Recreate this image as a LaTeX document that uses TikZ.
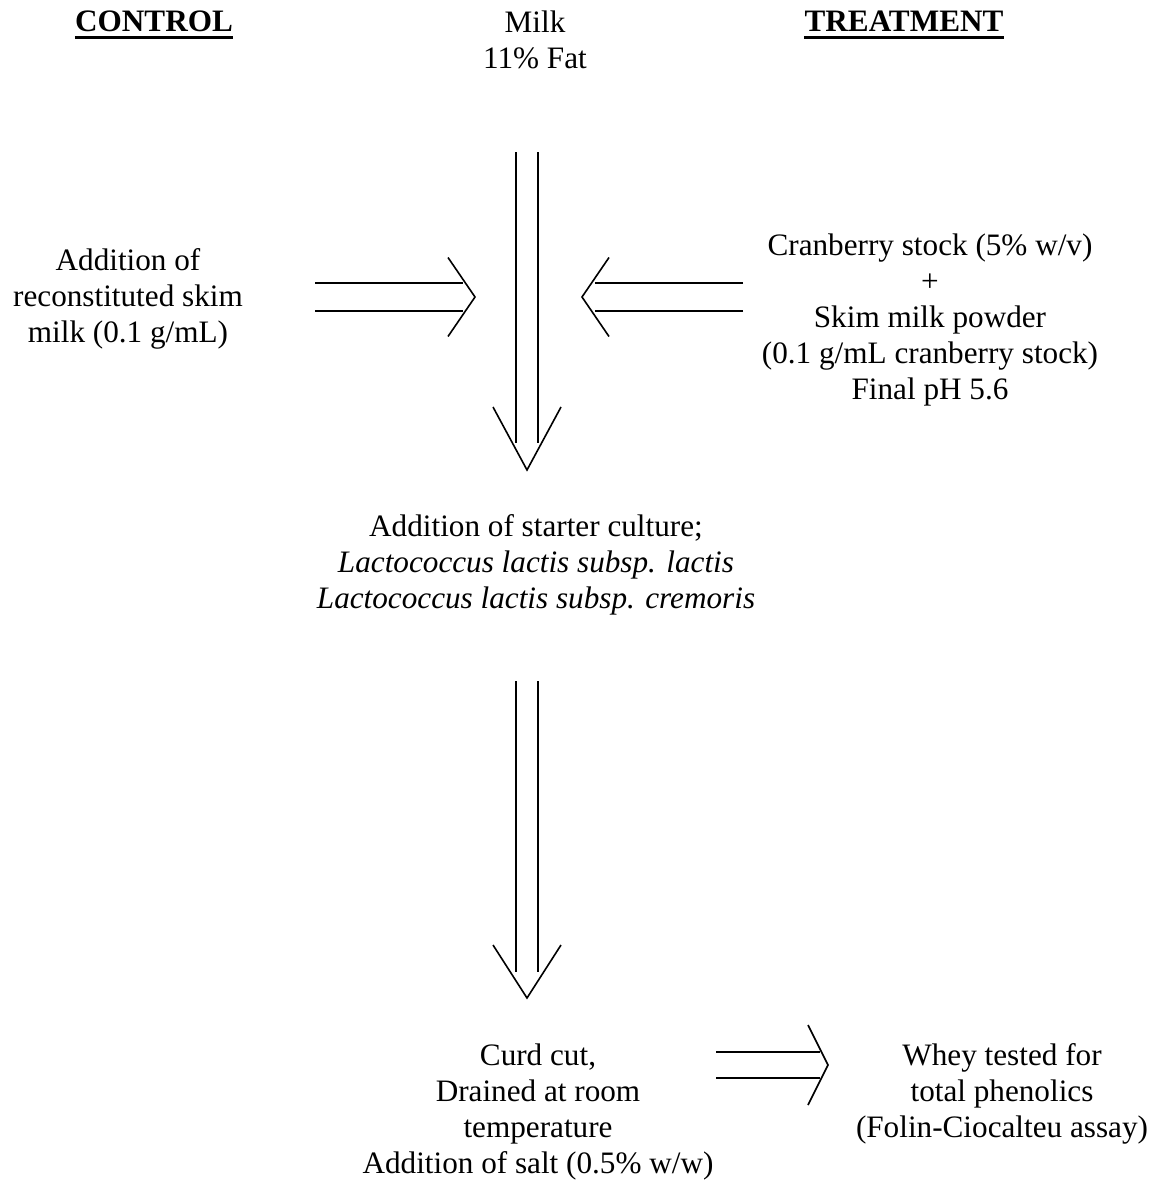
\documentclass[tikz,border=0pt]{standalone}
\usepackage{fontspec}
\setmainfont{Liberation Serif}
\usetikzlibrary{calc}
\tikzset{
  arrline/.style={line width=1.6pt, black},
  txt/.style={inner sep=0pt, align=center, anchor=north,
    font=\fontsize{31.2}{36}\selectfont},
  head/.style={inner sep=0pt, anchor=base,
    font=\fontsize{31.2}{36}\selectfont\bfseries},
}
% #1 from, #2 tip, #3 gap line-end to tip, #4 head depth, #5 head half width, #6 line offset
\newcommand{\dblarrow}[6]{%
  \path ($(#2)!#3pt!(#1)$) coordinate (tmpE) ($(#2)!#4pt!(#1)$) coordinate (tmpH);
  \draw[arrline] ($(#1)!#6pt!90:(#2)$) -- ($(tmpE)!#6pt!-90:(#1)$);
  \draw[arrline] ($(#1)!#6pt!-90:(#2)$) -- ($(tmpE)!#6pt!90:(#1)$);
  \draw[arrline] ($(tmpH)!#5pt!90:(#2)$) -- (#2) -- ($(tmpH)!#5pt!-90:(#2)$);
}
\begin{document}
\begin{tikzpicture}[x=1pt,y=-1pt]
\useasboundingbox[fill=white] (0,0) rectangle (1161,1180);

% headers
\node[head] (control) at (154,32) {CONTROL};
\node[head] (treat) at (904,32) {TREATMENT};
\draw[line width=3pt] ([yshift=-6pt]control.base west) -- ([yshift=-6pt]control.base east);
\draw[line width=3pt] ([yshift=-6pt]treat.base west) -- ([yshift=-6pt]treat.base east);

% texts
\node[txt] (milk) at (535,6.8) {\strut Milk\\11\% Fat};
\node[txt] (ctrl) at (128,244.8) {\strut Addition of\\reconstituted skim\\milk (0.1 g/mL)};
\node[txt] (cran) at (930,229.8) {\strut Cranberry stock (5\% w/v)\\+\\Skim milk powder\\(0.1 g/mL cranberry stock)\\Final pH 5.6};
\node[txt] (starter) at (536,510.8) {\strut Addition of starter culture;\\\itshape Lactococcus lactis subsp. lactis\\\itshape Lactococcus lactis subsp. cremoris};
\node[txt] (curd) at (538,1039.8) {\strut Curd cut,\\Drained at room\\temperature\\Addition of salt (0.5\% w/w)};
\node[txt] (whey) at (1002,1039.8) {\strut Whey tested for\\total phenolics\\(Folin-Ciocalteu assay)};

% arrow end points
\coordinate (a1s) at (527,152);
\coordinate (a1t) at (527,470);
\coordinate (a2s) at (527,681);
\coordinate (a2t) at (527,998);
\coordinate (las) at (315,297);
\coordinate (lat) at (475,297);
\coordinate (ras) at (743,297);
\coordinate (rat) at (582,297);
\coordinate (bas) at (716,1065);
\coordinate (bat) at (828,1065);

\dblarrow{a1s}{a1t}{27}{63}{34}{11}
\dblarrow{a2s}{a2t}{26}{53}{34}{11}
\dblarrow{las}{lat}{12}{27}{39.5}{14}
\dblarrow{ras}{rat}{13}{27}{39.5}{14}
\dblarrow{bas}{bat}{8}{20}{40}{13}
\end{tikzpicture}
\end{document}
